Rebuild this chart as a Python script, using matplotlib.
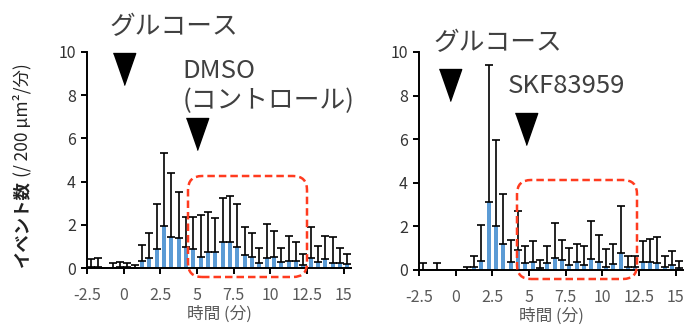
import matplotlib
matplotlib.use('Agg')
import matplotlib.pyplot as plt
from matplotlib.patches import FancyBboxPatch

plt.rcParams['font.family'] = ['Noto Sans CJK JP', 'DejaVu Sans']

# bin centres (min), 30 s bins
times = [-2.25, -1.75, -1.25, -0.75, -0.25, 0.25, 0.75, 1.25, 1.75, 2.25,
         2.75, 3.25, 3.75, 4.25, 4.75, 5.25, 5.75, 6.25, 6.75, 7.25,
         7.75, 8.25, 8.75, 9.25, 9.75, 10.25, 10.75, 11.25, 11.75, 12.25,
         12.75, 13.25, 13.75, 14.25, 14.75, 15.25]

# DMSO (control)
dmso_mean = [0.05, 0.05, 0.0, 0.02, 0.03, 0.03, 0.02, 0.31, 0.47, 0.90,
             1.95, 1.42, 1.38, 0.95, 0.88, 0.52, 0.75, 0.75, 1.19, 1.20,
             0.95, 0.59, 0.52, 0.25, 0.48, 0.52, 0.28, 0.33, 0.33, 0.16,
             0.48, 0.28, 0.44, 0.25, 0.25, 0.20]
dmso_err = [0.38, 0.42, 0.0, 0.21, 0.26, 0.22, 0.13, 0.77, 1.13, 2.07,
            3.38, 2.96, 2.16, 1.43, 1.48, 1.93, 1.85, 1.55, 2.03, 2.13,
            2.00, 1.29, 1.08, 0.67, 1.57, 1.21, 0.66, 1.17, 0.86, 0.47,
            1.40, 0.75, 1.06, 1.17, 0.69, 0.47]

# SKF83959
skf_mean = [0.0, 0.0, 0.0, 0.0, 0.0, 0.0, 0.02, 0.15, 0.40, 3.14,
            2.02, 1.18, 0.38, 0.92, 0.34, 0.38, 0.09, 0.34, 0.54, 0.44,
            0.21, 0.38, 0.23, 0.49, 0.38, 0.14, 0.29, 0.80, 0.14, 0.14,
            0.38, 0.38, 0.34, 0.15, 0.21, 0.11]
skf_err = [0.34, 0.0, 0.31, 0.0, 0.0, 0.0, 0.13, 0.51, 1.65, 6.28,
           3.96, 2.32, 1.00, 1.80, 0.78, 0.93, 0.37, 0.78, 1.62, 0.94,
           0.78, 0.79, 0.89, 1.75, 1.23, 0.82, 0.90, 2.15, 0.51, 0.51,
           0.97, 1.04, 1.16, 0.47, 0.65, 0.30]

xticks = [-2.5, 0, 2.5, 5, 7.5, 10, 12.5, 15]
xticklabels = ['-2.5', '0', '2.5', '5', '7.5', '10', '12.5', '15']

BLUE = '#5B9BD5'
RED = '#FF3B1F'
TXT = '#404040'

fig = plt.figure(figsize=(6.89, 3.26), dpi=100)
ax1 = fig.add_axes([0.1263, 0.1779, 0.3832, 0.6626])
ax2 = fig.add_axes([0.6081, 0.1718, 0.3832, 0.6687])


def draw_panel(ax, mean, err):
    ax.bar(times, mean, width=0.27, color=BLUE, zorder=2)
    ax.errorbar(times, mean, yerr=[[0] * len(err), err], fmt='none',
                ecolor='black', elinewidth=1.2, capsize=2.6, capthick=1.2, zorder=3)
    ax.set_xlim(-2.5, 15.5)
    ax.set_ylim(0, 10)
    ax.set_xticks(xticks)
    ax.set_xticklabels(xticklabels)
    ax.set_yticks([0, 2, 4, 6, 8, 10])
    for s in ['top', 'right']:
        ax.spines[s].set_visible(False)
    for s in ['left', 'bottom']:
        ax.spines[s].set_linewidth(1.4)
    ax.tick_params(axis='both', direction='out', length=4, width=1.4,
                   labelsize=11.5, pad=4)
    ax.tick_params(axis='x', labelcolor='#595959', pad=10)
    ax.tick_params(axis='y', labelcolor='#333333')
    ax.set_xlabel('時間 (分)', fontsize=12, color='#595959', labelpad=1)


draw_panel(ax1, dmso_mean, dmso_err)
draw_panel(ax2, skf_mean, skf_err)

tri = [(-0.7, 1), (0.7, 1), (0, -1)]
FS = 18.5

# left annotations
ax1.text(3.43, 11.15, 'グルコース', ha='center', va='center', fontsize=FS,
         color=TXT, clip_on=False)
ax1.plot([0], [9.2], marker=tri, markersize=23, color='black', clip_on=False)
ax1.text(4.0, 9.1, 'DMSO', ha='left', va='center', fontsize=FS, color=TXT)
ax1.text(4.0, 7.75, '(コントロール)', ha='left', va='center', fontsize=FS,
         color=TXT, clip_on=False)
ax1.plot([5], [6.2], marker=tri, markersize=23, color='black', clip_on=False)

# right annotations
ax2.text(2.9, 10.4, 'グルコース', ha='center', va='center', fontsize=FS,
         color=TXT, clip_on=False)
ax2.plot([-0.4], [8.5], marker=tri, markersize=23, color='black', clip_on=False)
ax2.text(3.55, 8.45, 'SKF83959', ha='left', va='center', fontsize=FS, color=TXT)
ax2.plot([4.8], [6.45], marker=tri, markersize=23, color='black', clip_on=False)

# dashed red highlight boxes (in inches)
for x0, y0, w, h in [(1.88, 0.49, 1.19, 1.01), (5.17, 0.47, 1.20, 0.99)]:
    box = FancyBboxPatch((x0, y0), w, h, boxstyle='round,pad=0,rounding_size=0.14',
                         transform=fig.dpi_scale_trans, fill=False,
                         edgecolor=RED, linewidth=1.8, linestyle=(0, (3, 1.6)))
    fig.add_artist(box)

# y label: bold part then normal part
t1 = fig.text(0.032, 0.181, 'イベント数', rotation=90, ha='center', va='bottom',
              fontsize=12.5, fontweight='bold', color='#222222')
fig.canvas.draw()
bb = t1.get_window_extent().transformed(fig.transFigure.inverted())
fig.text(0.032, bb.y1 + 0.01, '(/ 200 µm²/分)', rotation=90, ha='center',
         va='bottom', fontsize=12.5, color='#222222')

fig.savefig('out.png', dpi=100)
